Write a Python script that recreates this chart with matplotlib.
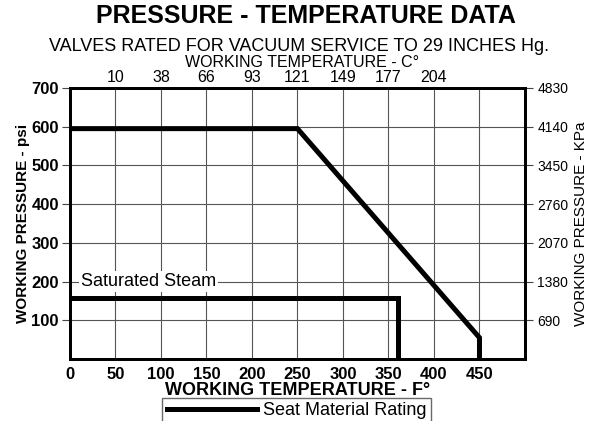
import matplotlib
matplotlib.use("Agg")
import matplotlib.pyplot as plt

# temperature in F, pressure in psi
seat_temp = [0, 250, 450, 450]
seat_psi = [595, 595, 55, 0]
steam_temp = [0, 360, 360]
steam_psi = [157, 157, 0]

f_ticks = [0, 50, 100, 150, 200, 250, 300, 350, 400, 450]
c_pos = [50, 100, 150, 200, 250, 300, 350, 400]
c_labels = ["10", "38", "66", "93", "121", "149", "177", "204"]
psi_ticks = [100, 200, 300, 400, 500, 600, 700]
kpa_labels = ["690", "1380", "2070", "2760", "3450", "4140", "4830"]

plt.rcParams["font.family"] = ["Liberation Sans", "DejaVu Sans"]

fig = plt.figure(figsize=(5.9, 4.21), dpi=100)
ax = fig.add_axes([0.1186, 0.1473, 0.7712, 0.6437])

ax.plot(seat_temp, seat_psi, color="black", lw=3.6, solid_joinstyle="miter",
        label="Seat Material Rating", zorder=3)
ax.plot(steam_temp, steam_psi, color="black", lw=3.6, solid_joinstyle="miter", zorder=3)

ax.set_xlim(0, 500)
ax.set_ylim(0, 700)
ax.set_xticks(f_ticks)
ax.set_xticklabels([str(t) for t in f_ticks], fontsize=12, fontweight="bold")
ax.set_yticks(psi_ticks)
ax.set_yticklabels([str(t) for t in psi_ticks], fontsize=12, fontweight="bold")
ax.tick_params(axis="x", length=0, pad=6)
ax.tick_params(axis="y", length=6, width=0.8, color="#444444", pad=2)
ax.grid(True, color="#555555", lw=0.8)
ax.set_axisbelow(True)
for s in ax.spines.values():
    s.set_linewidth(2.0)

ax.set_xlabel("WORKING TEMPERATURE - F°", fontsize=13, fontweight="bold", labelpad=0)
ax.set_ylabel("WORKING PRESSURE - psi", fontsize=11, fontweight="bold", labelpad=1)

# right axis in kPa
ax2 = ax.twinx()
ax2.set_ylim(ax.get_ylim())
ax2.set_yticks(psi_ticks)
ax2.set_yticklabels(kpa_labels, fontsize=10)
ax2.tick_params(axis="y", length=6, width=0.8, color="#444444", pad=3)
ax2.set_ylabel("WORKING PRESSURE - KPa", fontsize=11, labelpad=4)
for s in ax2.spines.values():
    s.set_linewidth(2.0)

# top axis in C
ax3 = ax.twiny()
ax3.set_xlim(ax.get_xlim())
ax3.set_xticks(c_pos)
ax3.set_xticklabels(c_labels, fontsize=11.5)
ax3.tick_params(axis="x", length=0, pad=2)
ax3.set_xlabel("WORKING TEMPERATURE - C°", fontsize=11.5, labelpad=0)
ax3.xaxis.set_label_coords(0.51, 1.078)

ax.text(12, 200, "Saturated Steam", fontsize=13, va="center", ha="left",
        bbox=dict(facecolor="white", edgecolor="none", pad=1.5), zorder=4)

fig.text(0.519, 0.962, "PRESSURE - TEMPERATURE DATA", ha="center", va="center",
         fontsize=18, fontweight="bold")
fig.text(0.507, 0.8895, "VALVES RATED FOR VACUUM SERVICE TO 29 INCHES Hg.",
         ha="center", va="center", fontsize=13)

ax.legend(loc="upper left", bbox_to_anchor=(0.203, -0.143), fontsize=13,
          handlelength=5, frameon=True, fancybox=False, edgecolor="#444444",
          borderpad=0.25, handletextpad=0.35, borderaxespad=0)

fig.savefig("out.png", dpi=100)
